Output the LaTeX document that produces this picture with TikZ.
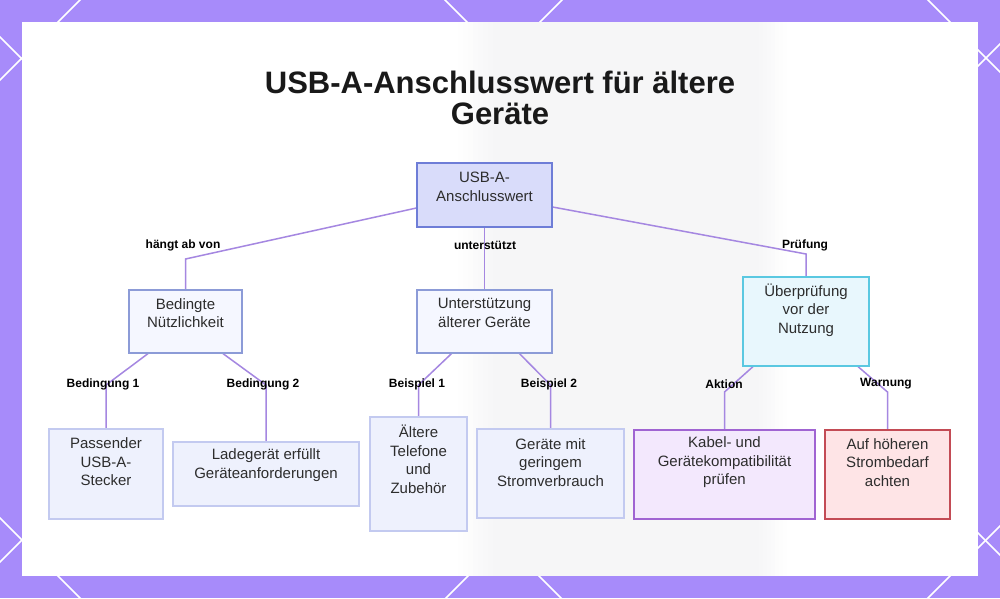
\documentclass[tikz,border=0pt]{standalone}
\usepackage{fontspec}
\setmainfont{Liberation Sans}
\definecolor{bgpurple}{RGB}{167,139,250}
\definecolor{edgec}{RGB}{165,135,225}
\definecolor{textc}{RGB}{45,45,45}
\definecolor{titlec}{RGB}{25,25,25}
\definecolor{rootfill}{RGB}{217,220,250}
\definecolor{rootdraw}{RGB}{110,125,215}
\definecolor{midfill}{RGB}{245,247,255}
\definecolor{middraw}{RGB}{140,155,215}
\definecolor{cyanfill}{RGB}{232,247,253}
\definecolor{cyandraw}{RGB}{90,200,225}
\definecolor{leaffill}{RGB}{238,241,253}
\definecolor{leafdraw}{RGB}{195,202,240}
\definecolor{purpfill}{RGB}{243,232,253}
\definecolor{purpdraw}{RGB}{160,100,210}
\definecolor{redfill}{RGB}{254,228,230}
\definecolor{reddraw}{RGB}{195,75,85}
\definecolor{bandc}{RGB}{246,246,247}
\tikzset{
  lattice/.style={draw=white, line width=1.5pt},
  box/.style={rectangle, line width=1.2pt, inner sep=0pt},
  txt/.style={align=center, text=textc, inner sep=0pt, font=\fontsize{15}{18.5}\selectfont},
  lbl/.style={text=black, inner sep=1pt, font=\fontsize{12}{14}\selectfont\bfseries},
  edge/.style={draw=edgec, line width=1.5pt}
}
\begin{document}
\begin{tikzpicture}[x=1pt,y=-1pt]
\useasboundingbox (0,0) rectangle (1000,598);
% background
\fill[bgpurple] (0,0) rectangle (1000,598);
\begin{scope}
\clip (0,0) rectangle (1000,598);
\foreach \c in {80,562,1044,1526} {\draw[lattice] (\c+200,-200) -- (\c-800,800);}
\foreach \d in {-928,-445,37,518} {\draw[lattice] (-200,\d-200) -- (1200,\d+1200);}
\end{scope}
\fill[white] (22,22) rectangle (978,576);
% faint band of the blurred backdrop
\foreach \i in {0,...,6} {
  \pgfmathsetmacro{\p}{(\i+1)*100/8}
  \fill[bandc!\p!white] (458+\i*5,22) rectangle (463+\i*5,576);
  \fill[bandc!\p!white] (787-\i*4,22) rectangle (783-\i*4,576);
}
\fill[bandc] (493,22) rectangle (759,576);
% title
\node[align=center, text=titlec, inner sep=0pt, font=\fontsize{31}{31}\selectfont\bfseries] (title) at (500,97.5) {USB-A-Anschlusswert für ältere\\Geräte};
% boxes
\node[box, draw=rootdraw, fill=rootfill, minimum width=135pt, minimum height=64pt] (R) at (484.5,195) {};
\node[box, draw=middraw, fill=midfill, minimum width=113pt, minimum height=63pt] (B) at (185.5,321.5) {};
\node[box, draw=middraw, fill=midfill, minimum width=135pt, minimum height=63pt] (U) at (484.5,321.5) {};
\node[box, draw=cyandraw, fill=cyanfill, minimum width=126pt, minimum height=89pt] (V) at (806,321.5) {};
\node[box, draw=leafdraw, fill=leaffill, minimum width=114pt, minimum height=90pt] (P) at (106,474) {};
\node[box, draw=leafdraw, fill=leaffill, minimum width=186pt, minimum height=64pt] (L) at (266,474) {};
\node[box, draw=leafdraw, fill=leaffill, minimum width=97pt, minimum height=114pt] (A) at (418.5,474) {};
\node[box, draw=leafdraw, fill=leaffill, minimum width=147pt, minimum height=89pt] (G) at (550.5,473.5) {};
\node[box, draw=purpdraw, fill=purpfill, minimum width=181pt, minimum height=89pt] (K) at (724.5,474.5) {};
\node[box, draw=reddraw, fill=redfill, minimum width=125pt, minimum height=89pt] (W) at (887.5,474.5) {};
% connectors
\draw[edge] ([yshift=-13pt]R.west) -- (B.north |- 0,259) -- (B.north);
\draw[edge] (R.south) -- (U.north);
\draw[edge] ([yshift=-12pt]R.east) -- (V.north |- 0,254) -- (V.north);
\draw[edge] ([xshift=-37.5pt]B.south) -- (P.north |- 0,385) -- (P.north);
\draw[edge] ([xshift=37.5pt]B.south) -- (L.north |- 0,385) -- (L.north);
\draw[edge] ([xshift=-33pt]U.south) -- (A.north |- 0,385) -- (A.north);
\draw[edge] ([xshift=35pt]U.south) -- (G.north |- 0,385) -- (G.north);
\draw[edge] ([xshift=-53pt]V.south) -- (K.north |- 0,392) -- (K.north);
\draw[edge] ([xshift=52pt]V.south) -- (W.north |- 0,392) -- (W.north);
% redraw box borders over connectors
\foreach \n/\c in {R/rootdraw,B/middraw,U/middraw,V/cyandraw,P/leafdraw,L/leafdraw,A/leafdraw,G/leafdraw,K/purpdraw,W/reddraw}{\draw[\c, line width=1.2pt] (\n.south west) rectangle (\n.north east);}
% box texts
\node[txt] (Rt) at (484.5,187) {USB-A-\\Anschlusswert};
\node[txt] (Bt) at (185.5,313) {Bedingte\\Nützlichkeit};
\node[txt] (Ut) at (484.5,313) {Unterstützung\\älterer Geräte};
\node[txt] (Vt) at (806,310) {Überprüfung\\vor der\\Nutzung};
\node[txt] (Pt) at (106,462) {Passender\\USB-A-\\Stecker};
\node[txt] (Lt) at (266,465) {Ladegerät erfüllt\\Geräteanforderungen};
\node[txt] (At) at (418.5,459.5) {Ältere\\Telefone\\und\\Zubehör};
\node[txt] (Gt) at (550.5,462.5) {Geräte mit\\geringem\\Stromverbrauch};
\node[txt] (Kt) at (724.5,462.5) {Kabel- und\\Gerätekompatibilität\\prüfen};
\node[txt] (Wt) at (887.5,462.5) {Auf höheren\\Strombedarf\\achten};
% edge labels
\node[lbl] (l1) at (183,245) {hängt ab von};
\node[lbl] (l2) at (485,245) {unterstützt};
\node[lbl] (l3) at (805,245) {Prüfung};
\node[lbl] (l4) at (103,384) {Bedingung 1};
\node[lbl] (l5) at (263,384) {Bedingung 2};
\node[lbl] (l6) at (417,384) {Beispiel 1};
\node[lbl] (l7) at (549,384) {Beispiel 2};
\node[lbl] (l8) at (724,384) {Aktion};
\node[lbl] (l9) at (886,384) {Warnung};
\end{tikzpicture}
\end{document}
